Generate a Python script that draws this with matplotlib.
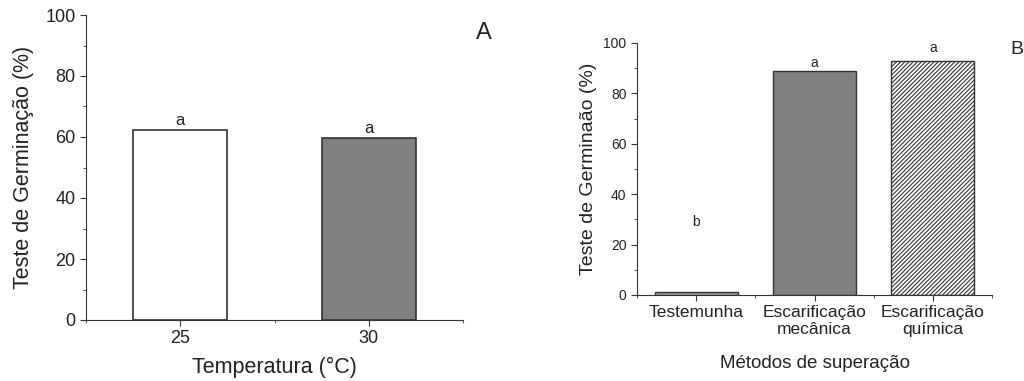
import matplotlib.pyplot as plt
from matplotlib.ticker import MultipleLocator, FixedLocator

plt.rcParams['font.family'] = ['Liberation Sans', 'DejaVu Sans']
plt.rcParams['hatch.linewidth'] = 0.8

# painel A
temps = ['25', '30']
germ_temp = [62.3, 59.7]
letras_temp = ['a', 'a']
cores_temp = ['white', '#808080']

# painel B
metodos = ['Testemunha', 'Escarificação\nmecânica', 'Escarificação\nquímica']
germ_metodo = [1.0, 89.0, 93.0]
letras_metodo = ['b', 'a', 'a']
pos_letras_metodo = [29.0, 92.0, 98.0]
cores_metodo = ['#a0a0a0', '#808080', 'white']
hatches_metodo = [None, None, '////////']

W, H = 1024, 381
fig = plt.figure(figsize=(W / 100, H / 100), dpi=100)


def px_axes(x0, y0, x1, y1):
    return fig.add_axes([x0 / W, 1 - y1 / H, (x1 - x0) / W, (y1 - y0) / H])


def style(ax, labelsize):
    for s in ['top', 'right']:
        ax.spines[s].set_visible(False)
    for s in ['left', 'bottom']:
        ax.spines[s].set_color('#333333')
    ax.set_ylim(0, 100)
    ax.yaxis.set_major_locator(MultipleLocator(20))
    ax.yaxis.set_minor_locator(MultipleLocator(10))
    ax.tick_params(which='major', length=4, color='#333333', labelsize=labelsize, labelcolor='#222222')
    ax.tick_params(which='minor', length=2.5, color='#333333')


# --- A ---
ax1 = px_axes(86, 15, 463, 320)
x1 = [1, 2]
ax1.bar(x1, germ_temp, width=0.5, color=cores_temp, edgecolor='#333333', linewidth=1.2)
for xi, v, l in zip(x1, germ_temp, letras_temp):
    ax1.text(xi, v + 0.5, l, ha='center', va='bottom', fontsize=12, color='#222222')
ax1.set_xlim(0.5, 2.5)
ax1.set_xticks(x1)
ax1.set_xticklabels(temps)
ax1.xaxis.set_minor_locator(FixedLocator([0.5, 1.5, 2.5]))
style(ax1, 13)
ax1.set_xlabel('Temperatura (°C)', fontsize=15.5, labelpad=7, color='#222222')
ax1.set_ylabel('Teste de Germinação (%)', fontsize=15.5, labelpad=8, color='#222222')
fig.text(484 / W, 1 - 33 / H, 'A', fontsize=17, ha='center', va='center', color='#222222')

# --- B ---
ax2 = px_axes(637, 43, 992, 295)
x2 = [0, 1, 2]
for xi, v, c, h in zip(x2, germ_metodo, cores_metodo, hatches_metodo):
    ax2.bar(xi, v, width=0.7, color=c, edgecolor='#333333', linewidth=1.0, hatch=h)
for xi, v, l in zip(x2, pos_letras_metodo, letras_metodo):
    ax2.text(xi, v, l, ha='center', va='center', fontsize=10, color='#222222')
ax2.set_xlim(-0.5, 2.5)
ax2.set_xticks(x2)
ax2.set_xticklabels(metodos, linespacing=1.15)
ax2.xaxis.set_minor_locator(FixedLocator([-0.5, 0.5, 1.5, 2.5]))
style(ax2, 10)
ax2.tick_params(axis='x', which='major', labelsize=12.5)
ax2.set_xlabel('Métodos de superação', fontsize=13.5, labelpad=13, color='#222222')
ax2.set_ylabel('Teste de Germinaão (%)', fontsize=14, labelpad=5, color='#222222')
fig.text(1010 / W, 1 - 50 / H, 'B', fontsize=14, ha='left', va='center', color='#222222')

fig.savefig('out.png', dpi=100)
